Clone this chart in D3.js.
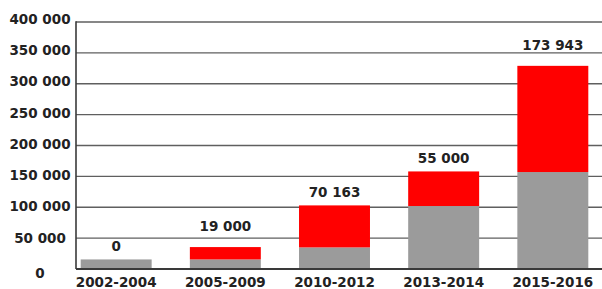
<!DOCTYPE html>
<html>
<head>
<meta charset="utf-8">
<script src="https://cdn.jsdelivr.net/npm/d3@7/dist/d3.min.js"></script>
<style>
  body { margin: 0; background: #fff; }
  svg { display: block; }
  text { font-family: "DejaVu Sans", sans-serif; font-weight: bold; fill: #222; }
</style>
</head>
<body>
<svg id="chart" width="602" height="289"></svg>
<script>
// periods on the x axis
const periods = ["2002-2004", "2005-2009", "2010-2012", "2013-2014", "2015-2016"];
// grey part (what was there before)
const baseValues = [15500, 15500, 35000, 102000, 157000];
// red part (added in the period)
const addedValues = [0, 20000, 68000, 56000, 172000];
// labels printed above the bars
const addedLabels = ["0", "19 000", "70 163", "55 000", "173 943"];
const yTicks = [0, 50000, 100000, 150000, 200000, 250000, 300000, 350000, 400000];

const svg = d3.select("#chart");
const margin = {top: 22, left: 76, bottom: 20};
const plotRight = 593;
const yBottom = 289 - margin.bottom;

const xScale = d3.scaleBand()
    .domain(periods)
    .range([margin.left, plotRight])
    .paddingInner(0.35)
    .paddingOuter(0.043);

const yScale = d3.scaleLinear()
    .domain([0, 400000])
    .range([yBottom, margin.top]);

const fmt = v => d3.format(",")(v).replace(/,/g, " ");

// gridlines
svg.append("g")
    .selectAll("line")
    .data(yTicks.filter(d => d > 0))
    .enter().append("line")
    .attr("x1", margin.left)
    .attr("x2", 602)
    .attr("y1", d => yScale(d))
    .attr("y2", d => yScale(d))
    .attr("stroke", "#5f5f5f")
    .attr("stroke-width", 1.4);

// y labels (centred in the left gutter, like the original)
svg.append("g")
    .selectAll("text")
    .data(yTicks)
    .enter().append("text")
    .attr("x", 40)
    .attr("y", (d, i) => yScale(d) + 5 + i * -0.4 + (d === 0 ? 4 : 0))
    .attr("text-anchor", "middle")
    .style("font-size", "13.5px")
    .text(d => fmt(d));

const rows = periods.map((p, i) => ({
    period: p, base: baseValues[i], added: addedValues[i], label: addedLabels[i]
}));

const bars = svg.append("g")
    .selectAll("g")
    .data(rows)
    .enter().append("g");

bars.append("rect")
    .attr("x", d => xScale(d.period))
    .attr("width", xScale.bandwidth())
    .attr("y", d => yScale(d.base))
    .attr("height", d => yScale(0) - yScale(d.base))
    .attr("fill", "#9b9b9b");

bars.append("rect")
    .attr("x", d => xScale(d.period))
    .attr("width", xScale.bandwidth())
    .attr("y", d => yScale(d.base + d.added))
    .attr("height", d => yScale(d.base) - yScale(d.base + d.added))
    .attr("fill", "#ff0000");

// value labels: sit just above the bar, pushed up when they'd sit on a gridline
function labelY(d) {
    let y = yScale(d.base + d.added) - 8;
    const hit = yTicks.some(t => t > 0 && yScale(t) > y - 11 && yScale(t) < y + 2);
    if (hit) y -= 8;
    return y;
}

bars.append("text")
    .attr("x", d => xScale(d.period) + xScale.bandwidth() / 2)
    .attr("y", labelY)
    .attr("text-anchor", "middle")
    .style("font-size", "13.5px")
    .text(d => d.label);

// axes lines
svg.append("line")
    .attr("x1", margin.left).attr("x2", margin.left)
    .attr("y1", yScale(400000) - 0.7).attr("y2", yBottom)
    .attr("stroke", "#3a3a3a").attr("stroke-width", 1.6);

svg.append("line")
    .attr("x1", margin.left).attr("x2", 602)
    .attr("y1", yBottom).attr("y2", yBottom)
    .attr("stroke", "#3a3a3a").attr("stroke-width", 1.8);

// x labels
svg.append("g")
    .selectAll("text")
    .data(periods)
    .enter().append("text")
    .attr("x", d => xScale(d) + xScale.bandwidth() / 2)
    .attr("y", 287)
    .attr("text-anchor", "middle")
    .style("font-size", "13.5px")
    .text(d => d);
</script>
</body>
</html>
